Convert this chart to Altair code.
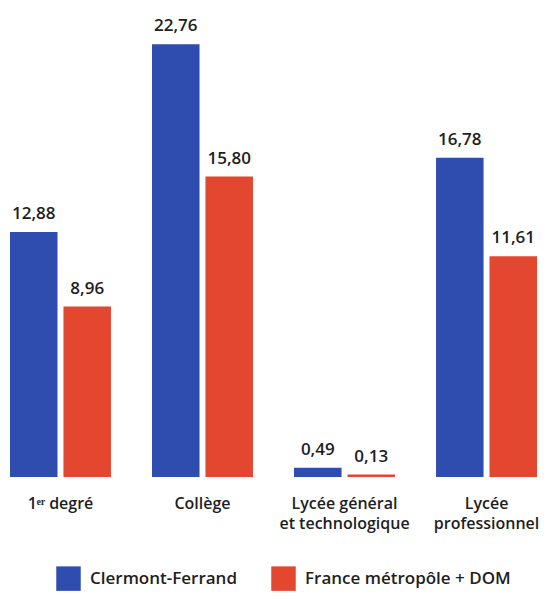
import altair as alt
import pandas as pd

categories = ["1ᵉʳ degré", "Collège", "Lycée général|et technologique", "Lycée|professionnel"]
series = ["Clermont-Ferrand", "France métropôle + DOM"]
clermont = [12.88, 22.76, 0.49, 16.78]
france = [8.96, 15.80, 0.13, 11.61]
colors = ["#2F4DAE", "#E3472F"]

rows = []
for c, a, b in zip(categories, clermont, france):
    rows.append({"cat": c, "serie": series[0], "val": a})
    rows.append({"cat": c, "serie": series[1], "val": b})
df = pd.DataFrame(rows)
df["label"] = df["val"].map(lambda v: f"{v:.2f}".replace(".", ","))

FONT = "Open Sans"
INK = "#1e1e1e"

x = alt.X("cat:N", sort=categories, title=None,
          scale=alt.Scale(paddingInner=0.289, paddingOuter=0.014),
          axis=alt.Axis(labelExpr="split(datum.label, '|')", labelAngle=0,
                        domain=False, ticks=False, tickSize=0, labelPadding=31,
                        labelBaseline="alphabetic",
                        labelFont=FONT, labelFontSize=16, labelFontWeight=600,
                        labelColor=INK, labelLineHeight=20))
xo = alt.XOffset("serie:N", sort=series, scale=alt.Scale(paddingInner=0.111))
y = alt.Y("val:Q", scale=alt.Scale(domain=[0, 24.66]), axis=None)

bars = alt.Chart(df).mark_bar().encode(
    x=x, xOffset=xo, y=y,
    color=alt.Color("serie:N", sort=series,
                    scale=alt.Scale(domain=series, range=colors),
                    legend=alt.Legend(title=None, orient="none", direction="horizontal",
                                      legendX=48, legendY=558, padding=0,
                                      symbolType="square", symbolSize=600,
                                      symbolStrokeWidth=0, symbolOpacity=1,
                                      labelFont=FONT, labelFontSize=17,
                                      labelFontWeight=600, labelColor=INK,
                                      columnPadding=33, labelOffset=9, labelLimit=400)),
)
text = alt.Chart(df).mark_text(baseline="alphabetic", dy=-13, font=FONT, fontSize=17,
                               fontWeight=600, color=INK).encode(
    x=x, xOffset=xo, y=y, text="label:N")

chart = (bars + text).properties(
    width=531, height=469, background="white",
    padding={"left": 0, "top": 0, "right": 0, "bottom": 115},
    autosize=alt.AutoSizeParams(type="none"),
).configure_view(stroke=None)

chart.save("out.html", embed_options={"renderer": "svg", "actions": False})
